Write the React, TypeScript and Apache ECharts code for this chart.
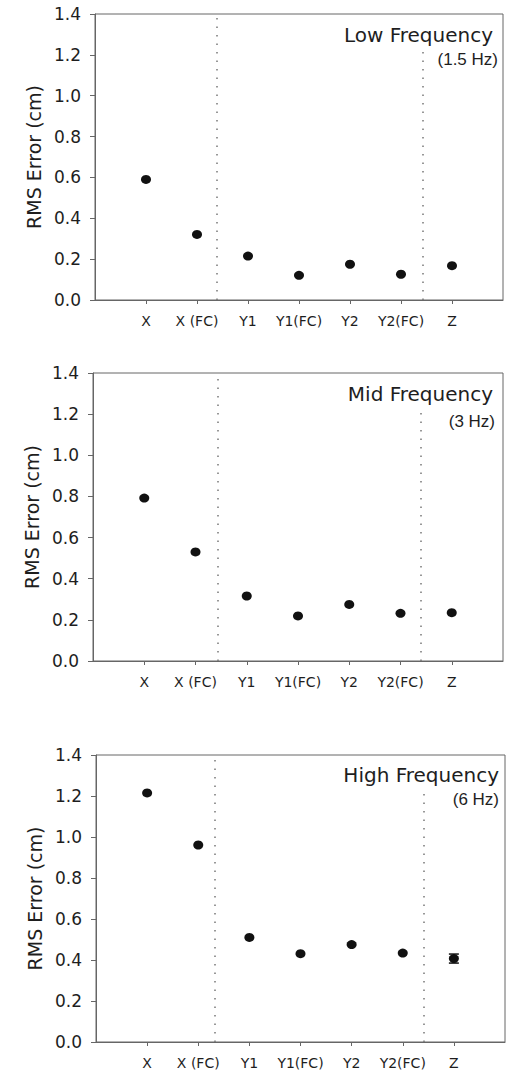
import React, { useEffect, useRef } from "react";
import * as echarts from "echarts";

const categories = ["X", "X (FC)", "Y1", "Y1(FC)", "Y2", "Y2(FC)", "Z"];
const lowValues = [0.59, 0.321, 0.215, 0.121, 0.175, 0.126, 0.168];
const lowErrors = [0, 0, 0, 0, 0, 0, 0];
const midValues = [0.792, 0.53, 0.316, 0.219, 0.275, 0.232, 0.235];
const midErrors = [0, 0, 0, 0, 0, 0, 0];
const highValues = [1.215, 0.961, 0.51, 0.431, 0.475, 0.434, 0.407];
const highErrors = [0, 0, 0, 0, 0, 0, 0.022];
const panelTitles = ["Low Frequency", "Mid Frequency", "High Frequency"];
const panelSubtitles = ["(1.5 Hz)", "(3 Hz)", "(6 Hz)"];

const TEXT = "#1e1e1e";
const AXIS = "#666";

const panels = [
  { values: lowValues, errors: lowErrors, grid: { left: 95, top: 14, width: 408, height: 286 }, div: [2.38, 6.42], titleRight: 10, subRight: 5, titleDy: 21, subDy: 45 },
  { values: midValues, errors: midErrors, grid: { left: 93, top: 373, width: 410, height: 288 }, div: [2.44, 6.4], titleRight: 10, subRight: 8, titleDy: 21, subDy: 48 },
  { values: highValues, errors: highErrors, grid: { left: 96, top: 755, width: 409, height: 287 }, div: [2.33, 6.42], titleRight: 6, subRight: 6, titleDy: 20, subDy: 44 },
];

export default function App() {
  const ref = useRef<HTMLDivElement>(null);
  useEffect(() => {
    if (!ref.current) return;
    const chart = echarts.init(ref.current, null, { renderer: "svg" });
    const catIdx = categories.map((_, i) => i + 1);

    const grid: any[] = [];
    const xAxis: any[] = [];
    const yAxis: any[] = [];
    const series: any[] = [];
    const graphic: any[] = [];

    panels.forEach((p, k) => {
      grid.push({ ...p.grid, show: true, borderColor: AXIS, borderWidth: 1, backgroundColor: "transparent" });
      xAxis.push({
        type: "value",
        gridIndex: k,
        min: 0,
        max: 8,
        interval: 1,
        axisLine: { show: true, onZero: false, lineStyle: { color: AXIS, width: 1 } },
        axisTick: { show: true, inside: false, length: 4, lineStyle: { color: AXIS }, customValues: catIdx },
        axisLabel: {
          customValues: catIdx,
          margin: 14,
          color: TEXT,
          fontFamily: "DejaVu Sans",
          fontSize: 14,
          formatter: (v: number) => (v >= 1 && v <= categories.length ? categories[Math.round(v) - 1] : ""),
        },
        splitLine: { show: false },
      });
      yAxis.push({
        type: "value",
        gridIndex: k,
        min: 0,
        max: 1.4,
        interval: 0.2,
        name: "RMS Error (cm)",
        nameLocation: "middle",
        nameGap: 52,
        nameTextStyle: { color: TEXT, fontFamily: "DejaVu Sans", fontSize: 19 },
        axisLine: { show: true, onZero: false, lineStyle: { color: AXIS, width: 1 } },
        axisTick: { show: true, inside: false, length: 5, lineStyle: { color: AXIS } },
        axisLabel: {
          margin: 14,
          color: TEXT,
          fontFamily: "DejaVu Sans",
          fontSize: 17,
          formatter: (v: number) => v.toFixed(1),
        },
        splitLine: { show: false },
      });
      const pts = p.values.map((v, i) => [i + 1, v, p.errors[i]]);
      series.push({
        type: "custom",
        xAxisIndex: k,
        yAxisIndex: k,
        data: pts,
        z: 3,
        renderItem: (params: any, api: any) => {
          const x = api.value(0);
          const y = api.value(1);
          const e = api.value(2);
          if (!e) return { type: "group", children: [] };
          const top = api.coord([x, y + e]);
          const bot = api.coord([x, y - e]);
          const hw = 5;
          const st = { stroke: "#111", lineWidth: 1.5 };
          return {
            type: "group",
            children: [
              { type: "line", shape: { x1: top[0], y1: top[1], x2: bot[0], y2: bot[1] }, style: st },
              { type: "line", shape: { x1: top[0] - hw, y1: top[1], x2: top[0] + hw, y2: top[1] }, style: st },
              { type: "line", shape: { x1: bot[0] - hw, y1: bot[1], x2: bot[0] + hw, y2: bot[1] }, style: st },
            ],
          };
        },
      });
      series.push({
        type: "scatter",
        xAxisIndex: k,
        yAxisIndex: k,
        data: pts.map((d) => [d[0], d[1]]),
        symbol: "circle",
        symbolSize: [10, 9],
        itemStyle: { color: "#111", opacity: 1 },
        z: 4,
        markLine: {
          silent: true,
          symbol: ["none", "none"],
          label: { show: false },
          lineStyle: { color: "#777", type: [1.5, 7], width: 1.5 },
          data: [
            [{ coord: [p.div[0], 0] }, { coord: [p.div[0], 1.4] }],
            [{ coord: [p.div[1], 0] }, { coord: [p.div[1], 1.24] }],
          ],
        },
      });
      const right = p.grid.left + p.grid.width;
      graphic.push({
        type: "text",
        x: right - p.titleRight,
        y: p.grid.top + p.titleDy,
        style: {
          text: panelTitles[k],
          fill: TEXT,
          fontFamily: "DejaVu Sans",
          fontSize: 20,
          align: "right",
          verticalAlign: "middle",
          textAlign: "right",
          textVerticalAlign: "middle",
        },
      });
      graphic.push({
        type: "text",
        x: right - p.subRight,
        y: p.grid.top + p.subDy,
        style: {
          text: panelSubtitles[k],
          fill: TEXT,
          fontFamily: "Liberation Sans",
          fontSize: 17,
          align: "right",
          verticalAlign: "middle",
          textAlign: "right",
          textVerticalAlign: "middle",
        },
      });
    });

    chart.setOption({
      animation: false,
      backgroundColor: "#fff",
      grid,
      xAxis,
      yAxis,
      series,
      graphic,
    });
    return () => chart.dispose();
  }, []);
  return (
    <div
      ref={ref}
      style={{ position: "absolute", left: 0, top: 0, width: 508, height: 1071 }}
    />
  );
}
